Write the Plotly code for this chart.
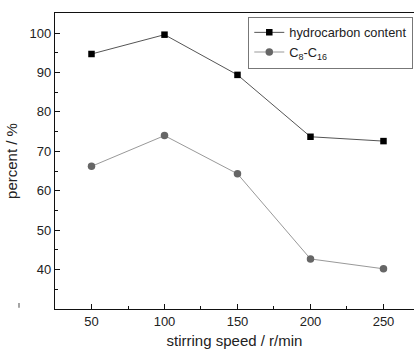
import plotly.graph_objects as go

speed = [50, 100, 150, 200, 250]
hydrocarbon = [94.7, 99.6, 89.4, 73.7, 72.6]
c8_c16 = [66.2, 74.0, 64.3, 42.7, 40.2]
y_ticks = [40, 50, 60, 70, 80, 90, 100]

font_family = "Liberation Sans, Arial, sans-serif"

fig = go.Figure()
fig.add_trace(go.Scatter(
    x=speed, y=hydrocarbon, mode="lines+markers", name="hydrocarbon content",
    line=dict(color="#555555", width=1),
    marker=dict(symbol="square", size=6.5, color="#000000"),
))
fig.add_trace(go.Scatter(
    x=speed, y=c8_c16, mode="lines+markers", name="C<sub>8</sub>-C<sub>16</sub>",
    line=dict(color="#999999", width=1),
    marker=dict(symbol="circle", size=7.5, color="#666666"),
))

fig.update_layout(
    width=414, height=351,
    margin=dict(l=55, r=0, t=13, b=42),
    paper_bgcolor="white", plot_bgcolor="white",
    font=dict(family=font_family, size=12, color="#222222"),
    showlegend=True,
    legend=dict(
        x=0.998, xanchor="right", y=0.988, yanchor="top",
        bordercolor="#777777", borderwidth=1, bgcolor="white",
        font=dict(size=12.8, color="#222222"),
        itemwidth=30, tracegroupgap=0,
    ),
    xaxis=dict(
        range=[25, 270.9], showgrid=False, zeroline=False,
        showline=True, linecolor="#111111", linewidth=1.3, mirror=True,
        ticks="inside", ticklen=5, tickwidth=1, tickcolor="#111111",
        tick0=0, dtick=50,
        minor=dict(ticks="inside", ticklen=3, dtick=25, tick0=0, tickcolor="#111111"),
        tickfont=dict(size=13),
        title=dict(text="stirring speed / r/min", font=dict(size=15), standoff=7),
    ),
    yaxis=dict(
        range=[30, 105.1], showgrid=False, zeroline=False,
        showline=True, linecolor="#111111", linewidth=1.3, mirror=False,
        ticks="inside", ticklen=5, tickwidth=1, tickcolor="#111111",
        tickmode="array", tickvals=y_ticks,
        minor=dict(ticks="inside", ticklen=3, dtick=5, tick0=0, tickcolor="#111111"),
        tickfont=dict(size=13),
        title=dict(text="percent / %", font=dict(size=15), standoff=8),
    ),
)

fig.add_shape(type="line", xref="paper", yref="paper",
              x0=-0.1003, x1=-0.1003, y0=0.004, y1=0.02,
              line=dict(color="#888888", width=1.5))

fig.write_html("out.html")
